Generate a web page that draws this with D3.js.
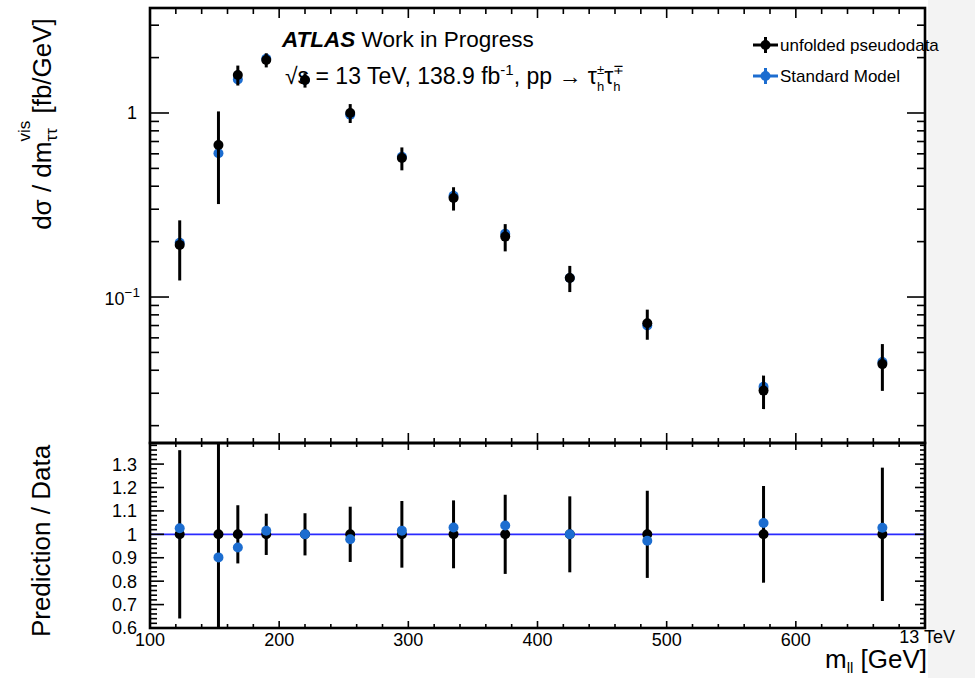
<!DOCTYPE html>
<html>
<head>
<meta charset="utf-8">
<script src="https://cdn.jsdelivr.net/npm/d3@7"></script>
<style>
  body { margin: 0; background: #fff; }
  svg { display: block; }
  text { font-family: "Liberation Sans", Arial, Helvetica, sans-serif; white-space: pre; }
</style>
</head>
<body>
<svg id="chart" width="975" height="678"></svg>
<script>
// Visible di-tau mass bins (bin centres, GeV)
const massCenters   = [123, 153, 168, 190, 220, 255, 295, 335, 375, 425, 485, 575, 667];
// Unfolded pseudodata cross-section [fb/GeV] and its uncertainty
const unfolded      = [0.192, 0.670, 1.61, 1.94, 1.51, 1.00, 0.569, 0.345, 0.213, 0.127, 0.0720, 0.0310, 0.0432];
const unfoldedErr   = [0.069, 0.350, 0.20, 0.171, 0.136, 0.118, 0.081, 0.050, 0.036, 0.0206, 0.0134, 0.0064, 0.0123];
// Standard Model prediction [fb/GeV]
const standardModel = [0.197, 0.604, 1.52, 1.97, 1.51, 0.979, 0.578, 0.355, 0.221, 0.127, 0.0700, 0.0325, 0.0444];

const massTickLabels  = [100, 200, 300, 400, 500, 600];
const ratioTickLabels = [0.6, 0.7, 0.8, 0.9, 1, 1.1, 1.2, 1.3];

const svg = d3.select("#chart");

const L = 150, R = 925;
const mainTop = 8, mainBot = 443;
const ratTop = 443, ratBot = 628;

const x = d3.scaleLinear().domain([100, 700]).range([L, R]);
const y = d3.scaleLog().domain([0.0163, 3.72]).range([mainBot - 1, mainTop]);
const yr = d3.scaleLinear().domain([0.6, 1.39]).range([ratBot, ratTop]);

const BLACK = "#000";
const BLUE = "#1c6dd0";
const LINE_BLUE = "#2a2aff";

// Light strip at the right edge of the canvas
svg.append("rect").attr("x", 928).attr("y", 0).attr("width", 47).attr("height", 678).attr("fill", "#f3f3f3");

// One text element built from measured tspans, so sub/superscripts sit
// after (or stacked above/below one another at) the preceding glyphs.
function drawRuns(parent, parts, anchor) {
  const el = parent.append("text").attr("fill", BLACK);
  let cx = 0;
  const spans = [];
  for (const p of parts) {
    const group = p.pair ? p.pair : [p];
    let w = 0;
    group.forEach(q => {
      const ts = el.append("tspan")
        .attr("x", cx).attr("y", q.dy || 0)
        .attr("font-size", q.s)
        .attr("font-weight", q.w || "normal")
        .attr("font-style", q.i ? "italic" : "normal")
        .text(q.t);
      spans.push(ts);
      w = Math.max(w, ts.node().getComputedTextLength());
    });
    cx += w;
  }
  const shift = anchor === "middle" ? -cx / 2 : anchor === "end" ? -cx : 0;
  if (shift) spans.forEach(ts => ts.attr("x", +ts.attr("x") + shift));
  return el;
}

const clipMain = svg.append("clipPath").attr("id", "clipMain");
clipMain.append("rect").attr("x", L).attr("y", mainTop).attr("width", R - L).attr("height", mainBot - mainTop);
const clipRatio = svg.append("clipPath").attr("id", "clipRatio");
clipRatio.append("rect").attr("x", L).attr("y", ratTop).attr("width", R - L).attr("height", ratBot - ratTop);

// ---------- Upper panel: cross-section ----------
const main = svg.append("g").attr("clip-path", "url(#clipMain)");

// Standard Model markers (underneath the data)
main.selectAll("circle.sm").data(massCenters).join("circle")
  .attr("class", "sm")
  .attr("cx", d => x(d))
  .attr("cy", (d, i) => y(standardModel[i]))
  .attr("r", 5).attr("fill", BLUE);

// Data error bars and markers
main.selectAll("line.err").data(massCenters).join("line")
  .attr("class", "err")
  .attr("x1", d => x(d)).attr("x2", d => x(d))
  .attr("y1", (d, i) => y(unfolded[i] + unfoldedErr[i]))
  .attr("y2", (d, i) => y(Math.max(unfolded[i] - unfoldedErr[i], 1e-4)))
  .attr("stroke", BLACK).attr("stroke-width", 3);
main.selectAll("circle.data").data(massCenters).join("circle")
  .attr("class", "data")
  .attr("cx", d => x(d))
  .attr("cy", (d, i) => y(unfolded[i]))
  .attr("r", 5).attr("fill", BLACK);

// ---------- Lower panel: ratio ----------
const rat = svg.append("g").attr("clip-path", "url(#clipRatio)");
rat.append("line").attr("x1", L).attr("x2", R).attr("y1", yr(1)).attr("y2", yr(1))
  .attr("stroke", LINE_BLUE).attr("stroke-width", 1.6);
rat.selectAll("line.rerr").data(massCenters).join("line")
  .attr("class", "rerr")
  .attr("x1", d => x(d)).attr("x2", d => x(d))
  .attr("y1", (d, i) => yr(1 + unfoldedErr[i] / unfolded[i]))
  .attr("y2", (d, i) => yr(1 - unfoldedErr[i] / unfolded[i]))
  .attr("stroke", BLACK).attr("stroke-width", 3);
rat.selectAll("circle.rdata").data(massCenters).join("circle")
  .attr("class", "rdata")
  .attr("cx", d => x(d)).attr("cy", yr(1)).attr("r", 5).attr("fill", BLACK);
rat.selectAll("circle.rsm").data(massCenters).join("circle")
  .attr("class", "rsm")
  .attr("cx", d => x(d))
  .attr("cy", (d, i) => yr(standardModel[i] / unfolded[i]))
  .attr("r", 5).attr("fill", BLUE);

// ---------- Frames and ticks ----------
const axes = svg.append("g").attr("stroke", BLACK).attr("fill", "none");
function tick(x1, y1, x2, y2, w) {
  axes.append("line").attr("x1", x1).attr("y1", y1).attr("x2", x2).attr("y2", y2).attr("stroke-width", w || 1.6);
}

// Mass ticks every 20 GeV, labelled every 100 GeV
const massMinor = d3.range(100, 701, 20);
massMinor.forEach(v => {
  const major = v % 100 === 0;
  const px = x(v);
  tick(px, mainBot, px, mainBot - (major ? 10 : 5));
  tick(px, mainTop, px, mainTop + (major ? 10 : 6));
  tick(px, ratTop, px, ratTop + (major ? 7 : 4));
  tick(px, ratBot, px, ratBot - (major ? 7 : 4));
});

// Logarithmic y ticks for the cross-section panel
const [ylo, yhi] = y.domain();
for (let e = -2; e <= 0; e++) {
  for (let m = 1; m <= 9; m++) {
    const v = m * Math.pow(10, e);
    if (v < ylo || v > yhi) continue;
    const py = y(v);
    const major = m === 1;
    tick(L, py, L + (major ? 19 : 9), py);
    tick(R, py, R - (major ? 18 : 8), py);
  }
}

// Ratio ticks every 0.02, labelled every 0.1
d3.range(60, 139, 2).forEach(k => {
  const v = k / 100;
  const py = yr(v);
  const major = k % 10 === 0;
  tick(L, py, L + (major ? 14 : 7), py);
  tick(R, py, R - (major ? 10 : 5), py);
});

axes.append("rect").attr("x", L).attr("y", mainTop).attr("width", R - L).attr("height", mainBot - mainTop).attr("stroke-width", 2.6);
axes.append("rect").attr("x", L).attr("y", ratTop).attr("width", R - L).attr("height", ratBot - ratTop).attr("stroke-width", 2.6);

// ---------- Tick labels ----------
const TICK_FS = 18;
svg.append("g").selectAll("text").data(ratioTickLabels).join("text")
  .attr("x", 137).attr("y", d => yr(d)).attr("dy", "0.36em")
  .attr("text-anchor", "end").attr("font-size", TICK_FS)
  .text(d => d3.format("~g")(d));

svg.append("g").selectAll("text").data(massTickLabels).join("text")
  .attr("x", d => x(d)).attr("y", 646)
  .attr("text-anchor", "middle").attr("font-size", TICK_FS)
  .text(d => d);

svg.append("text").attr("x", 137).attr("y", y(1)).attr("dy", "0.36em")
  .attr("text-anchor", "end").attr("font-size", TICK_FS).text("1");
drawRuns(svg.append("g").attr("transform", `translate(140,${y(0.1) + 8})`), [
  { t: "10", s: TICK_FS },
  { t: "\u22121", s: 13.5, dy: -8 }
], "end");

svg.append("text").attr("x", 955).attr("y", 643).attr("text-anchor", "end")
  .attr("font-size", TICK_FS).text("13 TeV");

// ---------- Axis titles ----------
drawRuns(svg.append("g").attr("transform", "translate(927,668)"), [
  { t: "m", s: 26 },
  { t: "ll", s: 15, dy: 5 },
  { t: " [GeV]", s: 26 }
], "end");

drawRuns(svg.append("g").attr("transform", "translate(51,124) rotate(-90)"), [
  { t: "d\u03c3 / dm", s: 26 },
  { pair: [{ t: "\u03c4\u03c4", s: 17, dy: 6 }, { t: "vis", s: 17, dy: -21 }] },
  { t: " [fb/GeV]", s: 26 }
], "middle");

drawRuns(svg.append("g").attr("transform", "translate(50,541) rotate(-90)"), [
  { t: "Prediction / Data", s: 26 }
], "middle");

// ---------- Labels inside the plot ----------
drawRuns(svg.append("g").attr("transform", "translate(282,47)"), [
  { t: "ATLAS", s: 22.5, w: "bold", i: true },
  { t: " Work in Progress", s: 22.5 }
]);

drawRuns(svg.append("g").attr("transform", "translate(285,84)"), [
  { t: "\u221as = 13 TeV, 138.9 fb", s: 23 },
  { t: "-1", s: 15, dy: -9 },
  { t: ", pp \u2192 \u03c4", s: 23 },
  { pair: [{ t: "h", s: 13, dy: 7 }, { t: "\u00b1", s: 13, dy: -10 }] },
  { t: "\u03c4", s: 23 },
  { pair: [{ t: "h", s: 13, dy: 7 }, { t: "\u2213", s: 13, dy: -10 }] }
]);

// ---------- Legend ----------
const legendItems = [
  { label: "unfolded pseudodata", color: BLACK, y: 45 },
  { label: "Standard Model", color: BLUE, y: 76 }
];
const leg = svg.append("g");
legendItems.forEach(it => {
  leg.append("line").attr("x1", 753).attr("x2", 778).attr("y1", it.y).attr("y2", it.y)
    .attr("stroke", it.color).attr("stroke-width", 3);
  leg.append("line").attr("x1", 765.5).attr("x2", 765.5).attr("y1", it.y - 8).attr("y2", it.y + 8)
    .attr("stroke", it.color).attr("stroke-width", 3);
  leg.append("circle").attr("cx", 765.5).attr("cy", it.y).attr("r", 5).attr("fill", it.color);
  leg.append("text").attr("x", 780).attr("y", it.y + 6).attr("font-size", 17).text(it.label);
});
</script>
</body>
</html>
